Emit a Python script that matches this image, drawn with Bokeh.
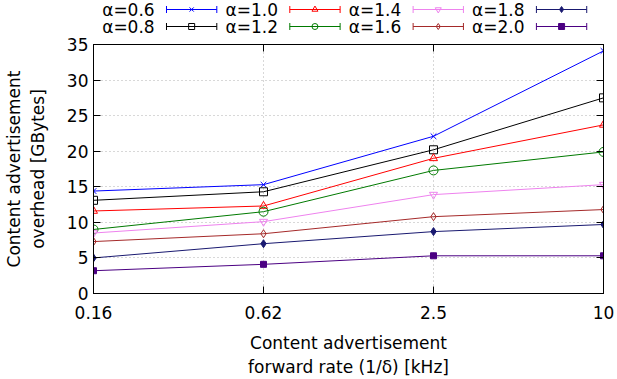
from bokeh.plotting import figure
from bokeh.models import Range1d, FixedTicker, LinearAxis, LogAxis
from bokeh.layouts import column
from bokeh.embed import file_html
from bokeh.resources import INLINE
from bokeh.core.properties import value

# ---------------- data ----------------
rates = [0.15625, 0.625, 2.5, 10.0]
rate_labels = ["0.16", "0.62", "2.5", "10"]
alpha_labels = ["α=0.6", "α=0.8", "α=1.0", "α=1.2", "α=1.4", "α=1.6", "α=1.8", "α=2.0"]
a06 = [14.4, 15.3, 22.1, 34.1]
a08 = [13.1, 14.3, 20.2, 27.5]
a10 = [11.6, 12.3, 19.0, 23.7]
a12 = [9.0, 11.5, 17.3, 19.9]
a14 = [8.5, 10.1, 13.9, 15.3]
a16 = [7.3, 8.4, 10.8, 11.8]
a18 = [5.0, 7.0, 8.7, 9.7]
a20 = [3.2, 4.1, 5.3, 5.3]
series = [a06, a08, a10, a12, a14, a16, a18, a20]
y_ticks = [0, 5, 10, 15, 20, 25, 30, 35]

# ---------------- styles ----------------
colors = ["#0000ff", "#000000", "#ff0000", "#007a00", "#ee82ee", "#a52a2a", "#191970", "#4b0082"]
markers = ["x", "square", "triangle", "circle", "inverted_triangle", "diamond", "diamond", "square"]
filled = [False, False, False, False, False, False, True, True]
msizes = [8, 8, 8, 9, 8, 8, 8, 6]
FONT = "DejaVu Sans"
FS = "17px"

W = 617
LEG_H = 35
MAIN_H = 379 - LEG_H
FRAME_L = 86
FRAME_R = 603

# ---------------- main plot ----------------
p = figure(width=W, height=MAIN_H, x_axis_type="log",
           x_range=Range1d(rates[0], rates[-1]), y_range=Range1d(y_ticks[0], y_ticks[-1]),
           output_backend="svg", toolbar_location=None,
           min_border_left=FRAME_L, min_border_right=W - FRAME_R, min_border_top=9, min_border_bottom=83)
p.background_fill_color = "white"
p.border_fill_color = "white"
p.outline_line_color = "black"
p.outline_line_width = 1

xticker = FixedTicker(ticks=rates, minor_ticks=[])
yticker = FixedTicker(ticks=y_ticks, minor_ticks=[])
overrides = {r: lab for r, lab in zip(rates, rate_labels)}

xa = p.xaxis[0]
xa.ticker = xticker
xa.major_label_overrides = overrides
ya = p.yaxis[0]
ya.ticker = yticker

for ax in (xa, ya):
    ax.major_tick_in = 7
    ax.major_tick_out = 0
    ax.minor_tick_in = 0
    ax.minor_tick_out = 0
    ax.axis_line_color = "black"
    ax.major_tick_line_color = "black"
    ax.major_label_text_font = FONT
    ax.major_label_text_font_size = FS
    ax.major_label_text_color = "black"
    ax.axis_label_text_font = FONT
    ax.axis_label_text_font_size = FS
    ax.axis_label_text_font_style = "normal"
    ax.axis_label_text_color = "black"

xa.axis_label = "Content advertisement\nforward rate (1/δ) [kHz]"
xa.major_label_standoff = 12
xa.axis_label_standoff = 11
ya.axis_label = "Content advertisement\noverhead [GBytes]"
ya.major_label_standoff = 5
ya.axis_label_standoff = 16

# mirrored ticks on top and right
top = LogAxis(ticker=FixedTicker(ticks=rates, minor_ticks=[]), major_tick_in=7, major_tick_out=0,
              minor_tick_in=0, minor_tick_out=0, major_label_text_font_size="0px",
              major_label_text_alpha=0, major_label_standoff=0, axis_line_color="black")
right = LinearAxis(ticker=FixedTicker(ticks=y_ticks, minor_ticks=[]), major_tick_in=7, major_tick_out=0,
                   minor_tick_in=0, minor_tick_out=0, major_label_text_font_size="0px",
                   major_label_text_alpha=0, major_label_standoff=0, axis_line_color="black")
p.add_layout(top, "above")
p.add_layout(right, "right")

p.xgrid.ticker = xticker
p.ygrid.ticker = yticker
for g in (p.xgrid, p.ygrid):
    g.grid_line_color = "#b0b0b0"
    g.grid_line_dash = "1 3"
    g.grid_line_width = 1

for ys, c, m, f, s in zip(series, colors, markers, filled, msizes):
    p.line(rates, ys, line_color=c, line_width=1)
    p.scatter(rates, ys, marker=m, size=s, line_color=c, line_width=1,
              fill_color=c if f else None)

# ---------------- legend (label, then sample with caps) ----------------
# the legend figure's frame is aligned with the main frame by the column layout,
# so its x range is expressed in the same page pixels as that frame
leg = figure(width=W, height=LEG_H, x_range=Range1d(FRAME_L, FRAME_R), y_range=Range1d(0, LEG_H),
             x_axis_location=None, y_axis_location=None,
             output_backend="svg", toolbar_location=None,
             min_border=0, min_border_left=FRAME_L, min_border_right=W - FRAME_R,
             min_border_top=0, min_border_bottom=0)
leg.grid.visible = False
leg.outline_line_color = None
leg.background_fill_color = "white"
leg.border_fill_color = "white"

col_step = 125
row_y = [LEG_H - 9, LEG_H - 26]
for i, (lab, c, m, f) in enumerate(zip(alpha_labels, colors, markers, filled)):
    ci, ri = i // 2, i % 2
    y = row_y[ri]
    xr = 148 + col_step * ci
    x0 = 160 + col_step * ci
    x1 = 211 + col_step * ci
    xm = (x0 + x1) / 2
    leg.text([xr], [y], text=[lab], text_align="right", text_baseline="middle",
             text_font=value(FONT), text_font_size=FS, text_color="black")
    leg.segment([x0], [y], [x1], [y], line_color=c, line_width=1)
    leg.segment([x0, x1], [y - 3.5, y - 3.5], [x0, x1], [y + 3.5, y + 3.5], line_color=c, line_width=1)
    leg.scatter([xm], [y], marker=m, size=6, line_color=c, line_width=1,
                fill_color=c if f else None)

layout = column(leg, p, spacing=0)
open("out.html", "w").write(file_html(layout, INLINE))
